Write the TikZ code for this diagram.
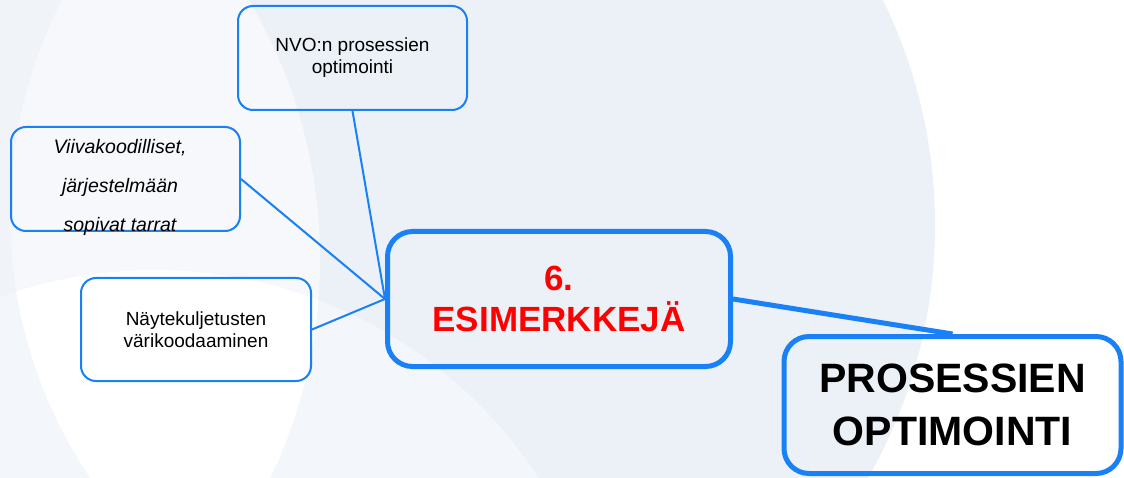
\documentclass[tikz,border=0pt]{standalone}
\usepackage{fontspec}
\setmainfont{Liberation Sans}
\usepackage{tikz}
\definecolor{mapblue}{HTML}{1A80F6}
\definecolor{bgdark}{HTML}{ECF1F8}
\definecolor{bgstrip}{HTML}{F0F3F8}
\definecolor{bglight}{HTML}{F6F8FC}
\definecolor{bgmid}{HTML}{F3F6FA}

\begin{document}
\begin{tikzpicture}[x=1pt,y=-1pt,
    box/.style={draw=mapblue,line width=2pt,rounded corners=15pt,align=center,
        minimum width=229pt,minimum height=104pt,inner sep=0pt,
        font=\fontsize{19}{22}\selectfont},
    bigbox/.style={draw=mapblue,line width=5pt,rounded corners=25pt,align=center,inner sep=0pt},
    link/.style={draw=mapblue,line width=2pt}]
    \useasboundingbox (0,0) rectangle (1124,478);
    \clip (0,0) rectangle (1124,478);
    % background circles
    \fill[white] (0,0) rectangle (1124,478);
    \fill[bgdark] (425,225) circle (510pt);
    \begin{scope}
        \clip (425,225) circle (510pt);
        \fill[bgstrip,even odd rule] (-100,-300) rectangle (1200,700) (480,215) circle (470pt);
    \end{scope}
    \begin{scope}
        \clip (480,215) circle (470pt);
        \fill[bglight] (-185,259) circle (505pt);
    \end{scope}
    \fill[bgmid] (155,728) circle (458pt);
    \begin{scope}
        \clip (480,215) circle (470pt);
        \clip (-185,259) circle (505pt);
        \fill[white] (155,728) circle (458pt);
    \end{scope}
    % boxes
    \node[box] (nvo) at (352.5,58) {NVO:n prosessien\\optimointi};
    \node[box] (viiva) at (125.5,179) {};
    \node[font=\fontsize{19.5}{39}\selectfont\itshape,align=center,inner sep=0pt] (viivatext) at (120,187) {Viivakoodilliset,\\järjestelmään\\sopivat tarrat};
    \node[box,minimum width=230pt,minimum height=103pt] (nayte) at (196,329.5) {Näytekuljetusten\\värikoodaaminen};
    \node[bigbox,minimum width=343pt,minimum height=135pt,text=red,
        font=\fontsize{35}{41}\selectfont\bfseries] (esim) at (559,299) {6.\\ESIMERKKEJÄ};
    \node[bigbox,minimum width=337pt,minimum height=137pt,
        font=\fontsize{41}{53}\selectfont\bfseries] (pros) at (952.5,405) {PROSESSIEN\\OPTIMOINTI};
    % links
    \draw[link] (nvo.south) -- (esim.west);
    \draw[link] (viiva.east) -- (esim.west);
    \draw[link] (nayte.east) -- (esim.west);
    \draw[mapblue,line width=5pt] (esim.east) -- (pros.north);
\end{tikzpicture}
\end{document}
